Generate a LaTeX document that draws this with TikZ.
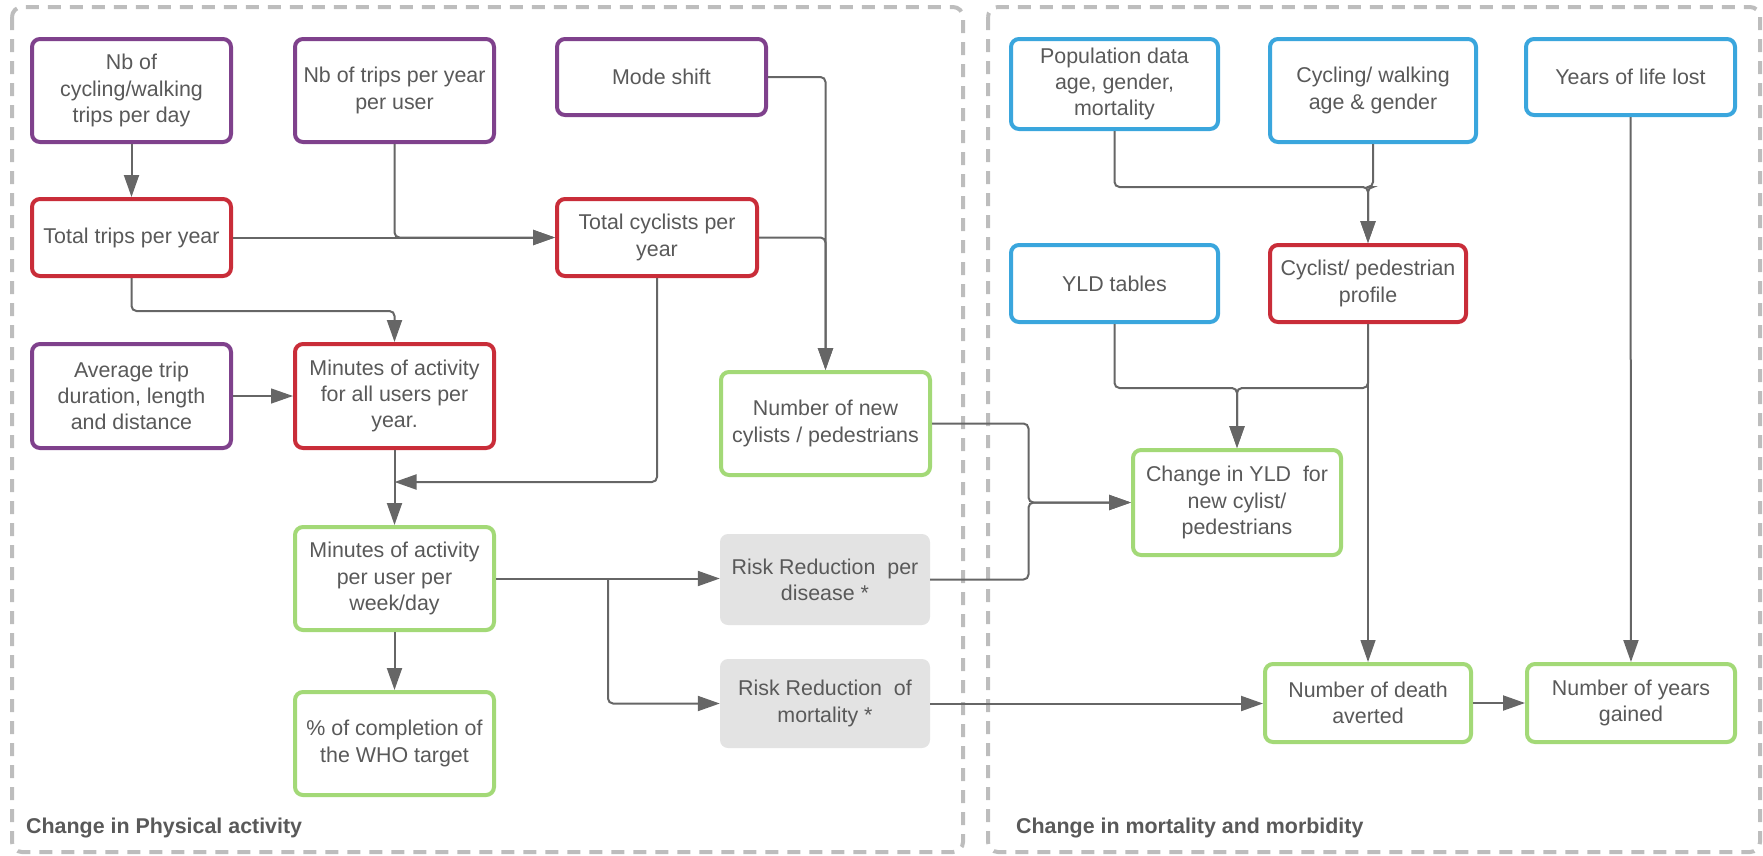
\documentclass[tikz,border=0pt]{standalone}
\usepackage{fontspec}
\setmainfont{Liberation Sans}
\usetikzlibrary{arrows.meta}
\definecolor{txt}{HTML}{595959}
\definecolor{ln}{HTML}{666666}
\definecolor{pur}{HTML}{7F418C}
\definecolor{bred}{HTML}{C92D39}
\definecolor{grn}{HTML}{A3D977}
\definecolor{blu}{HTML}{3AA6DD}
\definecolor{rfill}{HTML}{E3E3E3}
\definecolor{cont}{HTML}{BDBDBD}
\begin{document}
\begin{tikzpicture}[x=1pt,y=-1pt,
  every node/.style={font=\fontsize{21.4}{26.3}\selectfont, text=txt, align=center, inner sep=0pt},
  bx/.style={draw, line width=4pt, rounded corners=8pt, fill=white},
  pbox/.style={bx, draw=pur},
  rbox/.style={bx, draw=bred},
  gbox/.style={bx, draw=grn},
  bbox/.style={bx, draw=blu},
  riskbox/.style={fill=rfill, rounded corners=8pt},
  conn/.style={draw=ln, color=ln, line width=2pt, rounded corners=5pt, -{Triangle[length=22pt,width=15pt]}},
  thinconn/.style={conn, line width=1.3pt},
  container/.style={draw=cont, line width=4pt, dash pattern=on 13pt off 9pt, rounded corners=10pt},
  grouplabel/.style={font=\bfseries\fontsize{21.4}{26}\selectfont, text=txt, anchor=west}]
\useasboundingbox (0,0) rectangle (1763,855);

% containers
\draw[container] (12,7) rectangle (963,852);
\draw[container] (988,7) rectangle (1760,852);
\node[grouplabel] (lab1) at (26,828) {Change in Physical activity};
\node[grouplabel] (lab2) at (1016,828) {Change in mortality and morbidity};

% left group
\node[pbox, minimum width=199pt, minimum height=103pt] (nbcyc) at (131.5,90.5) {Nb of\\cycling/walking\\trips per day};
\node[pbox, minimum width=199pt, minimum height=103pt] (nbtrips) at (394.5,90.5) {Nb of trips per year\\per user};
\node[pbox, minimum width=209pt, minimum height=76pt] (mode) at (661.5,77) {Mode shift};
\node[rbox, minimum width=199pt, minimum height=77pt] (tottrips) at (131.5,237.5) {Total trips per year};
\node[rbox, minimum width=200pt, minimum height=77pt] (totcyc) at (657,237.5) {Total cyclists per\\year};
\node[pbox, minimum width=199pt, minimum height=104pt] (avg) at (131.5,396) {Average trip\\duration, length\\and distance};
\node[rbox, minimum width=199pt, minimum height=104pt] (minall) at (394.5,396) {Minutes of activity\\for all users per\\year.};
\node[gbox, minimum width=209pt, minimum height=103pt] (newcyc) at (825.5,423.5) {Number of new\\cylists / pedestrians};
\node[gbox, minimum width=199pt, minimum height=103pt] (minuser) at (394.5,578.5) {Minutes of activity\\per user per\\week/day};
\node[gbox, minimum width=199pt, minimum height=103pt] (who) at (394.5,743.5) {\% of completion of\\the WHO target};
\node[riskbox, minimum width=210pt, minimum height=91pt] (riskdis) at (825,579.5) {Risk Reduction\ \ per\\disease *};
\node[riskbox, minimum width=210pt, minimum height=89pt] (riskmort) at (825,703.5) {Risk Reduction\ \ of\\mortality *};

% right group
\node[bbox, minimum width=207pt, minimum height=90pt] (pop) at (1114.5,84) {Population data\\age, gender,\\mortality};
\node[bbox, minimum width=206pt, minimum height=103pt] (cycage) at (1373,90.5) {Cycling/ walking\\age \& gender};
\node[bbox, minimum width=209pt, minimum height=76pt] (yll) at (1630.5,77) {Years of life lost};
\node[bbox, minimum width=207pt, minimum height=77pt] (yld) at (1114.5,283.5) {YLD tables};
\node[rbox, minimum width=196pt, minimum height=77pt] (profile) at (1368,283.5) {Cyclist/ pedestrian\\profile};
\node[gbox, minimum width=208pt, minimum height=105pt] (chyld) at (1237,502.5) {Change in YLD\ \ for\\new cylist/\\pedestrians};
\node[gbox, minimum width=206pt, minimum height=78pt] (death) at (1368,703) {Number of death\\averted};
\node[gbox, minimum width=208pt, minimum height=78pt] (years) at (1631,703) {Number of years\\gained};

% junction coordinates
\coordinate (j1) at (394.5,482);
\coordinate (br) at (608,578.5);
\coordinate (m1) at (1028.5,502.5);

% connectors left
\draw[conn] (nbcyc) -- (tottrips);
\draw[conn] (tottrips) -- (totcyc);
\draw[conn] (nbtrips.south) |- (totcyc.west);
\draw[conn] (tottrips.south) -- ++(0,33) -| (minall.north);
\draw[conn] (mode.east) -| (newcyc.north);
\draw[conn] (totcyc.east) -| (newcyc.north);
\draw[conn] (totcyc.south) |- (j1);
\draw[thinconn] (avg) -- (minall);
\draw[conn] (minall) -- (minuser);
\draw[conn] (minuser) -- (who);
\draw[conn] (minuser.east) -- (minuser.east -| riskdis.west);
\draw[conn] (br) |- (riskmort.west);

% connectors across / right
\draw[conn] (newcyc.east) -| (m1) -- (chyld.west);
\draw[conn] (riskdis.east) -| (m1) -- (chyld.west);
\draw[conn] (riskmort.east) -- (riskmort.east -| death.west);
\draw[conn] (death) -- (years);
\draw[conn] (pop.south) -- ++(0,56) -| (profile.north);
\draw[conn] (cycage.south) -- ++(0,43) -| (profile.north);
\draw[conn] (yld.south) -- ++(0,64) -| (chyld.north);
\draw[conn] (profile.south) -- ++(0,64) -| (chyld.north);
\draw[thinconn] (profile) -- (death);
\draw[conn] (yll) -- (years);
\end{tikzpicture}
\end{document}
